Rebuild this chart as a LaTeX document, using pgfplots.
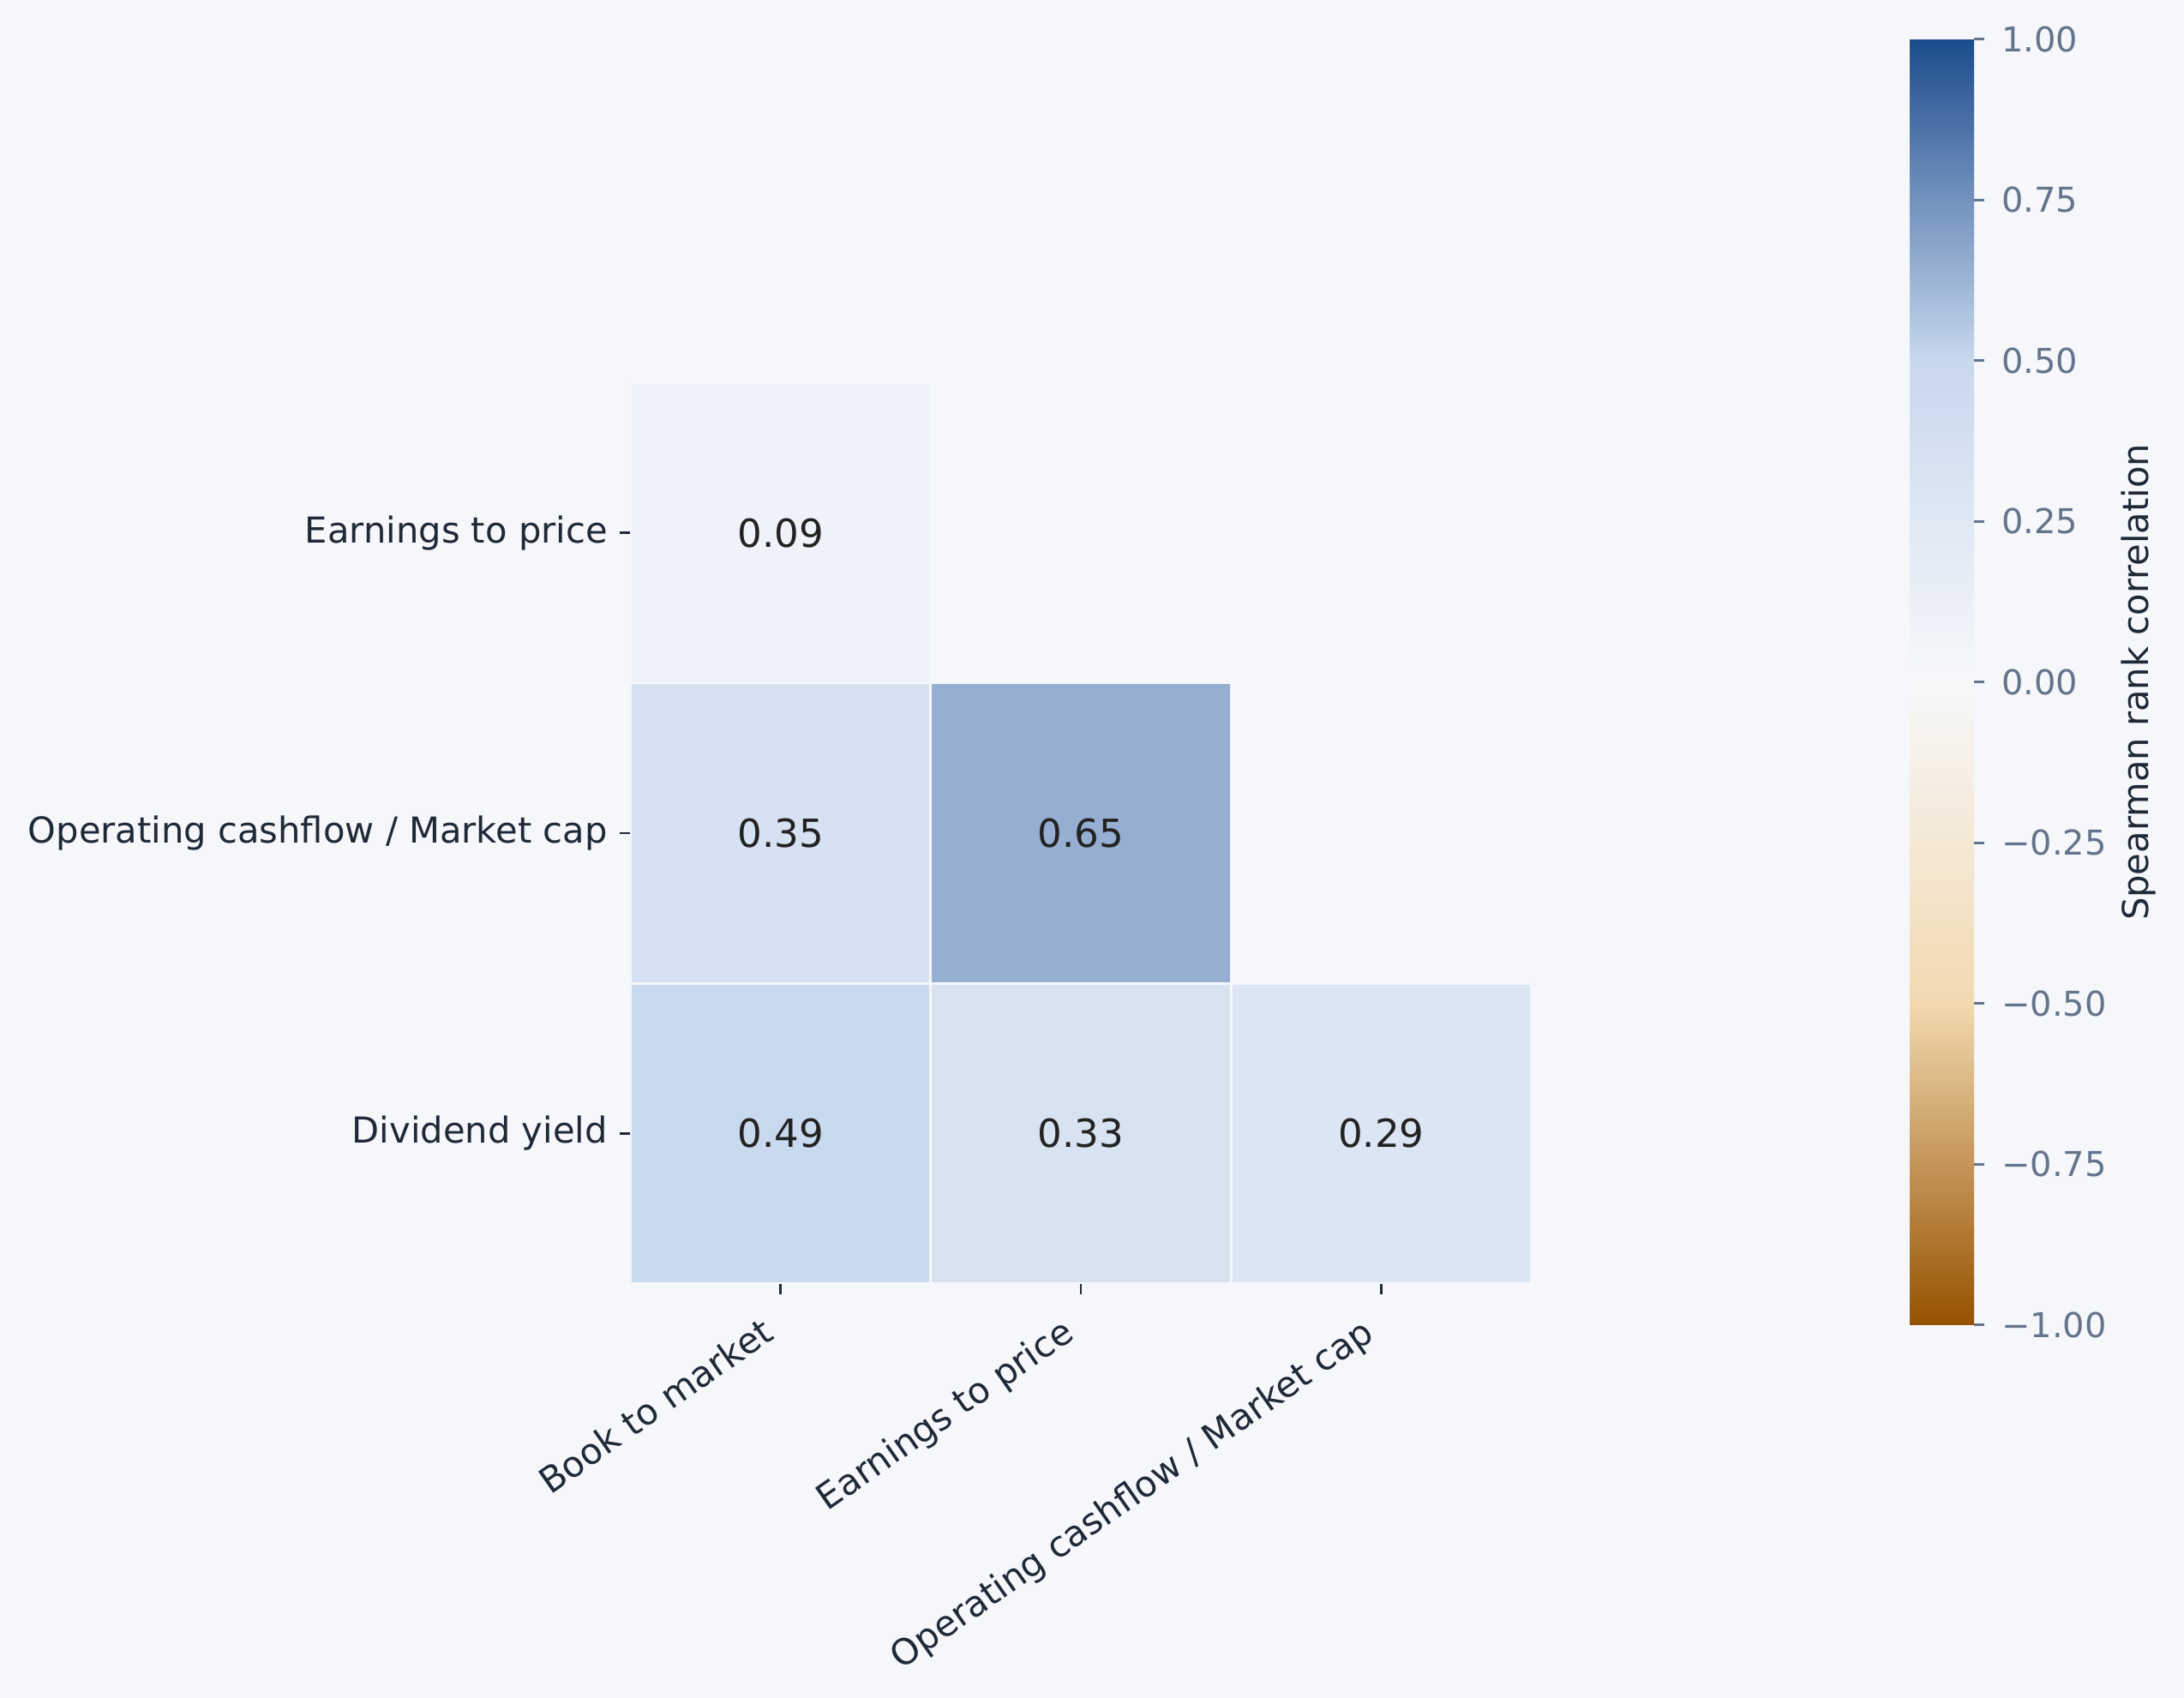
\documentclass[border=0pt]{standalone}
\usepackage{fontspec}
\setmainfont{DejaVu Sans}
\usepackage{pgfplots}
\usepackage{pgfplotstable}
\pgfplotsset{compat=1.18}
\usepgfplotslibrary{patchplots}
\usetikzlibrary{calc}
\definecolor{bg}{HTML}{F5F7FB}
\definecolor{txt}{HTML}{1F2937}
\definecolor{slate}{HTML}{64748B}
\definecolor{annot}{HTML}{222222}
% cell corners (x, y) with the cell's correlation as meta
\pgfplotstableread{
x y v
-0.5 1.5 0.09
0.5 1.5 0.09
0.5 2.5 0.09
-0.5 2.5 0.09
-0.5 0.5 0.35
0.5 0.5 0.35
0.5 1.5 0.35
-0.5 1.5 0.35
0.5 0.5 0.65
1.5 0.5 0.65
1.5 1.5 0.65
0.5 1.5 0.65
-0.5 -0.5 0.49
0.5 -0.5 0.49
0.5 0.5 0.49
-0.5 0.5 0.49
0.5 -0.5 0.33
1.5 -0.5 0.33
1.5 0.5 0.33
0.5 0.5 0.33
1.5 -0.5 0.29
2.5 -0.5 0.29
2.5 0.5 0.29
1.5 0.5 0.29
}\cells
\pgfplotstableread{
x y l
0 2 0.09
0 1 0.35
1 1 0.65
0 0 0.49
1 0 0.33
2 0 0.29
}\labels
\begin{document}
\begin{tikzpicture}
\useasboundingbox (0,0) rectangle (733.8pt,570.5pt);
\fill[bg] (0,0) rectangle (733.8pt,570.5pt);
\begin{axis}[
  at={(211.8pt,139.2pt)}, anchor=south west,
  scale only axis, width=302.7pt, height=302.7pt,
  xmin=-0.5, xmax=2.5, ymin=-0.5, ymax=2.5,
  axis line style={draw=none},
  xtick={0,1,2}, ytick={0,1,2},
  xticklabels={Book to market, Earnings to price, Operating cashflow / Market cap},
  yticklabels={Dividend yield, Operating cashflow / Market cap, Earnings to price},
  xtick pos=left, ytick pos=left,
  tick align=outside, major tick length=3.5pt,
  every tick/.style={txt, line width=0.8pt},
  ticklabel style={font=\fontsize{12}{14}\selectfont, text=txt},
  xticklabel style={xshift=-6.9pt, yshift=-7pt, rotate=35, anchor=north east, inner sep=0pt, text height=9.1pt, text depth=2.9pt},
  yticklabel style={anchor=east, inner sep=0pt, xshift=-4pt},
  colormap={corr}{rgb255(0cm)=(150,82,0); rgb255(1cm)=(242,217,176); rgb255(2cm)=(247,248,250); rgb255(3cm)=(200,216,238); rgb255(4cm)=(28,76,140)},
  point meta min=-1, point meta max=1,
  colorbar,
  colorbar/width=21.6pt,
  colorbar shift/.style={},
  colorbar style={
    at={($(parent axis.south west)+(429.9pt,-13.9pt)$)}, anchor=south west,
    scale only axis, height=432pt,
    axis line style={draw=none},
    ytick={-1,-0.75,-0.5,-0.25,0,0.25,0.5,0.75,1},
    yticklabels={−1.00,−0.75,−0.50,−0.25,0.00,0.25,0.50,0.75,1.00},
    yticklabel pos=right, ytick pos=right,
    tick align=outside, major tick length=3.5pt,
    every tick/.style={slate, line width=0.8pt},
    yticklabel style={font=\fontsize{11.5}{13}\selectfont, text=slate, anchor=west, inner sep=0pt, xshift=5.5pt},
    ylabel={Spearman rank correlation},
    ylabel style={font=\fontsize{12}{14}\selectfont, text=txt, at={($(axis description cs:1,0.5)+(55.3pt,0pt)$)}, anchor=center},
  },
]
\addplot[patch, patch type=rectangle, shader=faceted, faceted color=bg, line width=0.9pt, point meta=explicit]
  table[x=x, y=y, meta=v] {\cells};
\addplot[only marks, mark=none, point meta=explicit symbolic,
  nodes near coords,
  every node near coord/.append style={font=\fontsize{13}{15}\selectfont, text=annot, anchor=center}]
  table[x=x, y=y, meta=l] {\labels};
\end{axis}
\end{tikzpicture}
\end{document}
